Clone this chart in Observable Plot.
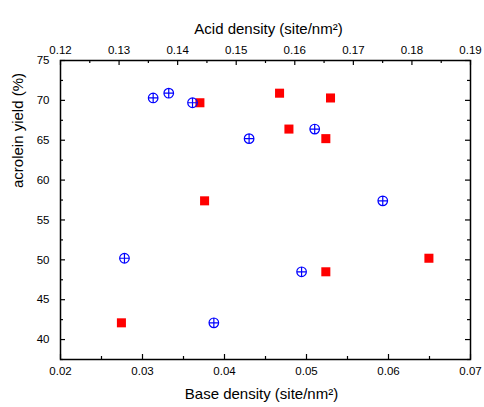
<!DOCTYPE html>
<html>
<head>
<meta charset="utf-8">
<script src="https://cdn.jsdelivr.net/npm/d3@7"></script>
<script src="https://cdn.jsdelivr.net/npm/@observablehq/plot@0.6"></script>
<style>
  html, body { margin: 0; padding: 0; background: #fff; }
  #chart { width: 484px; height: 407px; }
</style>
</head>
<body>
<div id="chart"></div>
<script>
// ---- data ----
const baseDensity = [0.0313, 0.0332, 0.0361, 0.0430, 0.0510, 0.0593, 0.0278, 0.0494, 0.0387];
const baseYield   = [70.3, 70.9, 69.7, 65.2, 66.4, 57.4, 50.2, 48.5, 42.1];
const acidDensity = [0.1438, 0.1574, 0.1661, 0.1590, 0.1653, 0.1446, 0.1829, 0.1653, 0.1304];
const acidYield   = [69.7, 70.9, 70.3, 66.4, 65.2, 57.4, 50.2, 48.5, 42.1];

const baseTicks = [0.02, 0.03, 0.04, 0.05, 0.06, 0.07];
const baseMinor = [0.025, 0.035, 0.045, 0.055, 0.065];
const acidTicks = [0.12, 0.13, 0.14, 0.15, 0.16, 0.17, 0.18, 0.19];
const acidMinor = [0.125, 0.135, 0.145, 0.155, 0.165, 0.175, 0.185];
const yTicks = [40, 45, 50, 55, 60, 65, 70, 75];
const yMinor = [37.5, 42.5, 47.5, 52.5, 57.5, 62.5, 67.5, 72.5];

const baseDomain = [0.02, 0.07];
const acidDomain = [0.12, 0.19];
const yDomain = [37.5, 75];

// twin axis: map acid density onto the base-density x scale
const toBase = a => baseDomain[0] + (a - acidDomain[0]) * (baseDomain[1] - baseDomain[0]) / (acidDomain[1] - acidDomain[0]);
const fromBase = b => acidDomain[0] + (b - baseDomain[0]) * (acidDomain[1] - acidDomain[0]) / (baseDomain[1] - baseDomain[0]);

const baseData = baseDensity.map((x, i) => ({x, y: baseYield[i]}));
const acidData = acidDensity.map((a, i) => ({a, y: acidYield[i]}));

const W = 484, H = 407;
const mL = 60, mR = 14, mT = 60, mB = 48;
const fw = W - mL - mR, fh = H - mT - mB;
const major = 5, minor = 3;

const circlePlus = {
  draw(ctx, size) {
    const r = Math.sqrt(size / Math.PI);
    ctx.moveTo(r, 0);
    ctx.arc(0, 0, r, 0, 2 * Math.PI);
    ctx.moveTo(-r, 0); ctx.lineTo(r, 0);
    ctx.moveTo(0, -r); ctx.lineTo(0, r);
  }
};

const fmt2 = d3.format(".2f");

const chart = Plot.plot({
  width: W, height: H,
  marginLeft: mL, marginRight: mR, marginTop: mT, marginBottom: mB,
  style: {fontFamily: "Arial, 'Liberation Sans', sans-serif", fontSize: "11.5px", color: "#000", background: "#fff"},
  x: {domain: baseDomain},
  y: {domain: yDomain},
  marks: [
    // axes labels (ticks drawn inward below)
    Plot.axisX({anchor: "bottom", ticks: baseTicks, tickSize: 0, tickPadding: 7, tickFormat: fmt2, label: null, fontSize: 11.5}),
    Plot.axisX({anchor: "top", ticks: acidTicks.map(toBase), tickSize: 0, tickPadding: 7, tickFormat: b => fmt2(fromBase(b)), label: null, fontSize: 11.5}),
    Plot.axisY({anchor: "left", ticks: yTicks, tickSize: 0, tickPadding: 11, tickFormat: d => d, label: null, fontSize: 11.5}),
    // inward ticks
    Plot.tickX(baseTicks, {x: d => d, stroke: "#000", strokeWidth: 1.2, insetTop: fh - major}),
    Plot.tickX(baseMinor, {x: d => d, stroke: "#000", strokeWidth: 1.2, insetTop: fh - minor}),
    Plot.tickX(acidTicks, {x: d => toBase(d), stroke: "#000", strokeWidth: 1.2, insetBottom: fh - major}),
    Plot.tickX(acidMinor, {x: d => toBase(d), stroke: "#000", strokeWidth: 1.2, insetBottom: fh - minor}),
    Plot.tickY(yTicks, {y: d => d, stroke: "#000", strokeWidth: 1.2, insetRight: fw - major}),
    Plot.tickY(yMinor, {y: d => d, stroke: "#000", strokeWidth: 1.2, insetRight: fw - minor}),
    Plot.tickY(yTicks, {y: d => d, stroke: "#000", strokeWidth: 1.2, insetLeft: fw - major}),
    Plot.tickY(yMinor, {y: d => d, stroke: "#000", strokeWidth: 1.2, insetLeft: fw - minor}),
    Plot.frame({stroke: "#000", strokeWidth: 1.5}),
    // data
    Plot.dot(acidData, {x: d => toBase(d.a), y: "y", symbol: "square", fill: "#ff0000", r: 5.1}),
    Plot.dot(baseData, {x: "x", y: "y", symbol: circlePlus, stroke: "#0000ff", fill: "none", strokeWidth: 1.2, r: 4.8}),
    // titles
    Plot.text(["Acid density (site/nm²)"], {frameAnchor: "top", dy: -37, dx: 3, fontSize: 15}),
    Plot.text(["Base density (site/nm²)"], {frameAnchor: "bottom", dy: 39, dx: -4, fontSize: 15}),
    Plot.text(["acrolein yield (%)"], {frameAnchor: "left", dx: -42, dy: -22, rotate: -90, fontSize: 15})
  ]
});
document.getElementById("chart").appendChild(chart);
</script>
</body>
</html>
